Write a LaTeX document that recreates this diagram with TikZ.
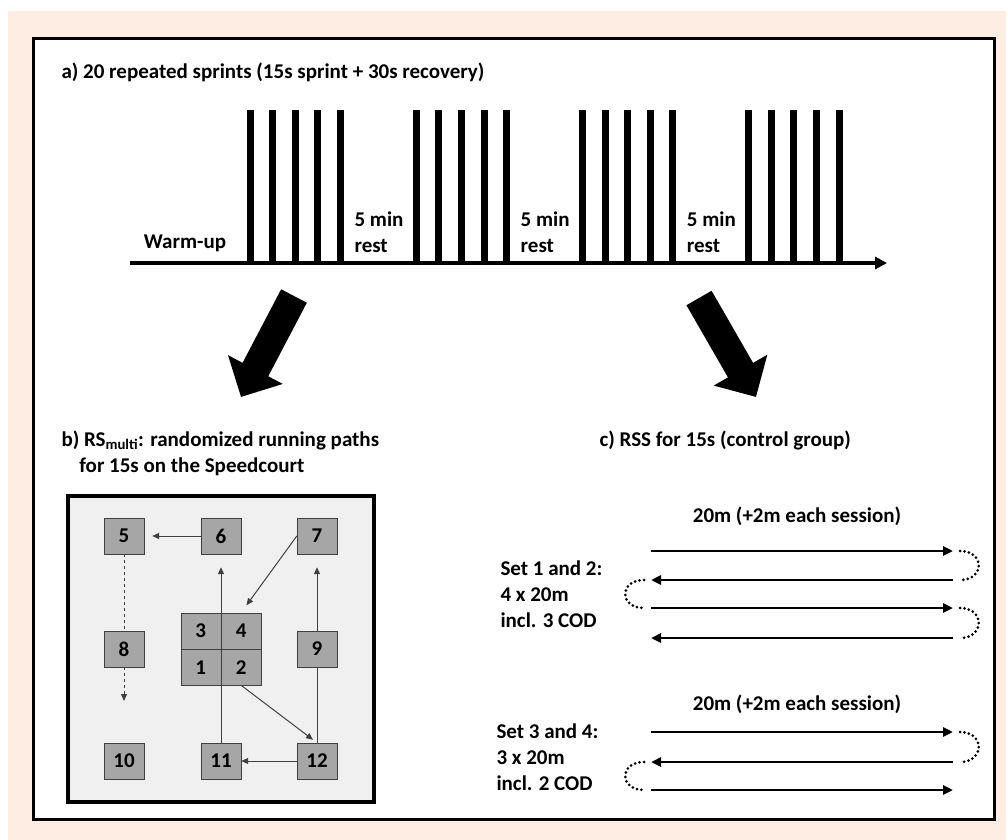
\documentclass[tikz,border=0pt]{standalone}
\usepackage{fontspec}
\setmainfont{Carlito}
\usetikzlibrary{arrows.meta, calc, positioning, matrix}
\definecolor{peach}{RGB}{253,237,227}
\definecolor{courtgray}{RGB}{240,240,240}
\definecolor{cellgray}{RGB}{166,166,166}
\definecolor{pathgray}{RGB}{64,64,64}

\begin{document}
\begin{tikzpicture}[x=1pt, y=-1pt, >=Stealth, font=\fontsize{21}{26}\selectfont\bfseries,
  cell/.style={draw=pathgray, fill=cellgray, minimum width=40pt, minimum height=36pt, inner sep=0pt},
  courtarrow/.style={draw=pathgray, line width=1pt, -{Triangle[length=7pt, width=6pt]}},
  bigarrow/.style={line width=29pt, -{Triangle[length=31pt, width=60pt]}},
  run/.style={line width=2.5pt, -{Triangle[length=10pt, width=9pt]}},
  turn/.style={line width=3pt, line cap=round, dash pattern=on 0pt off 4.5pt}]

  \useasboundingbox (0,0) rectangle (1006,840);
  \fill[peach] (8,11) rectangle (1006,840);
  \draw[line width=3pt, fill=white] (33,39) rectangle (994,819);

  % a) timeline
  \node[anchor=west] (titleA) at (58,72) {a) 20 repeated sprints (15s sprint + 30s recovery)};
  \coordinate (axisL) at (130,263);
  \coordinate (axisR) at (887,263);
  \foreach \g in {0,...,3} {
    \foreach \b in {0,...,4} {\draw[line width=7pt] ({250+166.2*\g+22.6*\b},264) -- ({250+166.2*\g+22.6*\b},110);}
  }
  \draw[line width=4pt, -{Triangle[length=12pt, width=12pt]}] (axisL) -- (axisR);
  \node (warmup) at (185,243) {Warm-up};
  \foreach \g in {0,1,2} {\node[anchor=west, align=left] (rest\g) at ({351+166.2*\g},232) {5 min\\rest};}

  \coordinate (bigL) at (294,296);
  \coordinate (tipL) at (241,397);
  \coordinate (bigR) at (699,298);
  \coordinate (tipR) at (756,397);
  \draw[bigarrow] (bigL) -- (tipL);
  \draw[bigarrow] (bigR) -- (tipR);

  % b) speedcourt
  \node[anchor=west, align=left] (titleB) at (58,453) {b) RS\textsubscript{multi}: randomized running paths\\\hspace*{0.85em}for 15s on the Speedcourt};
  \draw[line width=4pt, fill=courtgray] (68,496) rectangle (374,802);
  \foreach \n/\x/\y in {5/124/536, 6/221/536, 7/317/536, 8/124/649, 9/317/649, 10/124/761, 11/221/761, 12/317/761}
    {\node[cell] (c\n) at (\x,\y) {\n};}
  \matrix[matrix of nodes, nodes={cell}, column sep=0pt, row sep=0pt] (mid) at (221,649) {
    3 & 4 \\
    1 & 2 \\
  };
  \coordinate (end8) at (124,701);
  \draw[courtarrow, shorten >=8pt] (c6) -- (c5);
  \draw[courtarrow, dashed, -] (c5) -- (c8);
  \draw[courtarrow, dashed] (c8) -- (end8);
  \draw[courtarrow, shorten >=9pt] (c7.west) -- (mid-1-2.north);
  \draw[courtarrow, shorten >=13pt] (c11.north) -- (c6.south);
  \draw[courtarrow, shorten >=5pt] (mid-2-2.south) -- (c12.north);
  \draw[courtarrow, -] (c12.north) -- (c9.south);
  \draw[courtarrow, shorten >=13pt] (c9.north) -- (c7.south);
  \draw[courtarrow] (c12) -- (c11);

  % c) RSS
  \node[anchor=west] (titleC) at (596,440) {c) RSS for 15s (control group)};
  \node (lenA) at (797,516) {20m (+2m each session)};
  \node (lenB) at (797,704) {20m (+2m each session)};
  \node[anchor=west, align=left] (setA) at (497,594) {Set 1 and 2:\\4 x 20m\\incl. 3 COD};
  \node[anchor=west, align=left] (setB) at (493,757) {Set 3 and 4:\\3 x 20m\\incl. 2 COD};
  \foreach \i/\y in {1/551, 2/580, 3/608, 4/638, 5/732, 6/762, 7/790} {
    \coordinate (a\i) at (651,\y);
    \coordinate (b\i) at (953,\y);
  }
  \foreach \i in {1,3,5,7} {\draw[run] (a\i) -- (b\i);}
  \foreach \i in {2,4,6} {\draw[run] (b\i) -- (a\i);}
  \foreach \i/\j in {1/2, 3/4, 5/6}
    {\draw[turn] ($(b\i)+(7,0)$) .. controls +(25,0) and +(25,0) .. ($(b\j)+(7,0)$);}
  \foreach \i/\j in {2/3, 6/7}
    {\draw[turn] ($(a\i)+(-7,0)$) .. controls +(-25,0) and +(-25,0) .. ($(a\j)+(-7,0)$);}
\end{tikzpicture}
\end{document}
